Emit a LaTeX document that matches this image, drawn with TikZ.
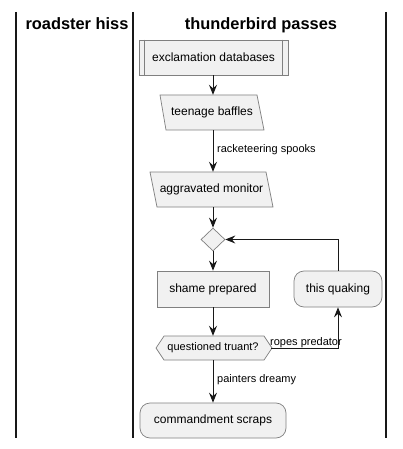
\documentclass[tikz,border=0pt]{standalone}
\usepackage{fontspec}
\setmainfont{Liberation Sans}
\usetikzlibrary{arrows.meta,shapes.geometric}
\definecolor{fillc}{HTML}{F1F1F1}
\definecolor{linec}{HTML}{181818}
\definecolor{edgec}{HTML}{808080}
\begin{document}
\begin{tikzpicture}[x=1pt,y=-1pt,
 box/.style={draw=edgec,line width=0.7pt,fill=fillc},
 txt/.style={font=\fontsize{12}{14}\selectfont,inner sep=0pt,text=black},
 lbl/.style={font=\fontsize{11}{13}\selectfont,inner sep=0pt,anchor=base west},
 arr/.style={draw=linec,line width=1pt,-{Stealth[length=10pt,width=8pt,inset=3.5pt]}},
 lane/.style={draw=linec,line width=1.6pt},
 ttl/.style={font=\fontsize{16.4}{19}\selectfont\bfseries,inner sep=0pt,anchor=base}]
\useasboundingbox (0,0) rectangle (403,449);
\fill[white] (0,0) rectangle (403,449);
% swimlanes
\draw[lane] (16,12) -- (16,438);
\draw[lane] (133,12) -- (133,438);
\draw[lane] (386,12) -- (386,438);
\node[ttl] (t1) at (77,30) {roadster hiss};
\node[ttl] (t2) at (261,30) {thunderbird passes};
% nodes
\node[box,txt,minimum width=149pt,minimum height=35pt] (ex) at (213.5,57.5) {exclamation databases};
\draw[draw=edgec,line width=0.7pt] ([xshift=6pt]ex.north west) -- ([xshift=6pt]ex.south west);
\draw[draw=edgec,line width=0.7pt] ([xshift=-6pt]ex.north east) -- ([xshift=-6pt]ex.south east);
\draw[box] (160,95) -- (257,95) -- (264,130) -- (166,130) -- cycle;
\node[txt,minimum width=98pt,minimum height=35pt] (tb) at (212,112.5) {teenage baffles};
\draw[box] (150,172) -- (266,172) -- (273,207) -- (157,207) -- cycle;
\node[txt,minimum width=116pt,minimum height=35pt] (am) at (211.5,189.5) {aggravated monitor};
\node[box,diamond,minimum width=24pt,minimum height=23pt,inner sep=0pt] (dia) at (213,239.5) {};
\node[box,txt,minimum width=112pt,minimum height=36pt] (sp) at (213,289) {shame prepared};
\node[box,txt,rounded corners=10pt,minimum width=88pt,minimum height=36pt] (tq) at (338,289) {this quaking};
\draw[box] (156,348) -- (164,336) -- (264,336) -- (272,348) -- (264,360) -- (164,360) -- cycle;
\node[txt,font=\fontsize{11}{13}\selectfont,minimum width=116pt,minimum height=24pt] (qt) at (213,348) {questioned truant?};
\node[box,txt,rounded corners=10pt,minimum width=146pt,minimum height=35pt] (cs) at (213,420.5) {commandment scraps};
% connectors
\draw[arr] (ex.south -| dia.center) -- (tb.north -| dia.center);
\draw[arr] (tb.south -| dia.center) -- (am.north -| dia.center);
\node[lbl] (l1) at (217,152.5) {racketeering spooks};
\draw[arr] (am.south -| dia.center) -- (dia.north);
\draw[arr] (dia.south) -- (sp.north);
\draw[arr] (sp.south) -- (qt.north);
\draw[arr] (qt.south) -- (cs.north);
\node[lbl] (l2) at (217,382.5) {painters dreamy};
\draw[arr] (qt.east) -| (tq.south);
\node[lbl] (l3) at (270,345.5) {ropes predator};
\draw[arr] (tq.north) |- (dia.east);
\end{tikzpicture}
\end{document}
